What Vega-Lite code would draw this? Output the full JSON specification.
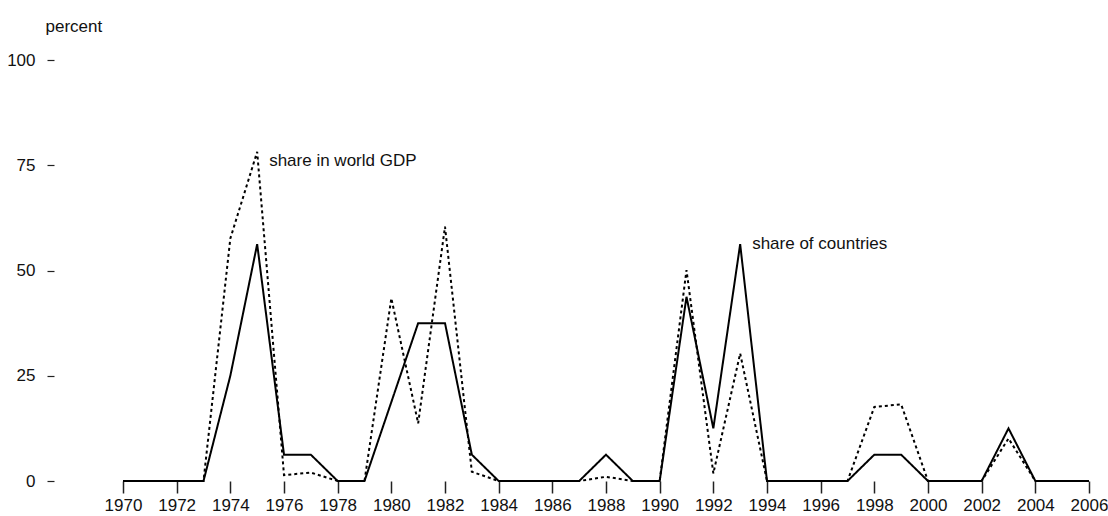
{
  "$schema": "https://vega.github.io/schema/vega-lite/v6.json",
  "width": 966,
  "height": 421,
  "autosize": {"type": "none"},
  "padding": {"left": 123, "top": 60, "right": 19, "bottom": 35},
  "background": "white",
  "config": {
    "view": {"stroke": null},
    "font": "Liberation Sans, Arial, sans-serif"
  },
  "datasets": {
    "series": [
      {"year": 1970, "series": "countries", "value": 0},
      {"year": 1971, "series": "countries", "value": 0},
      {"year": 1972, "series": "countries", "value": 0},
      {"year": 1973, "series": "countries", "value": 0},
      {"year": 1974, "series": "countries", "value": 25},
      {"year": 1975, "series": "countries", "value": 56.25},
      {"year": 1976, "series": "countries", "value": 6.25},
      {"year": 1977, "series": "countries", "value": 6.25},
      {"year": 1978, "series": "countries", "value": 0},
      {"year": 1979, "series": "countries", "value": 0},
      {"year": 1980, "series": "countries", "value": 18.75},
      {"year": 1981, "series": "countries", "value": 37.5},
      {"year": 1982, "series": "countries", "value": 37.5},
      {"year": 1983, "series": "countries", "value": 6.25},
      {"year": 1984, "series": "countries", "value": 0},
      {"year": 1985, "series": "countries", "value": 0},
      {"year": 1986, "series": "countries", "value": 0},
      {"year": 1987, "series": "countries", "value": 0},
      {"year": 1988, "series": "countries", "value": 6.25},
      {"year": 1989, "series": "countries", "value": 0},
      {"year": 1990, "series": "countries", "value": 0},
      {"year": 1991, "series": "countries", "value": 43.75},
      {"year": 1992, "series": "countries", "value": 12.5},
      {"year": 1993, "series": "countries", "value": 56.25},
      {"year": 1994, "series": "countries", "value": 0},
      {"year": 1995, "series": "countries", "value": 0},
      {"year": 1996, "series": "countries", "value": 0},
      {"year": 1997, "series": "countries", "value": 0},
      {"year": 1998, "series": "countries", "value": 6.25},
      {"year": 1999, "series": "countries", "value": 6.25},
      {"year": 2000, "series": "countries", "value": 0},
      {"year": 2001, "series": "countries", "value": 0},
      {"year": 2002, "series": "countries", "value": 0},
      {"year": 2003, "series": "countries", "value": 12.5},
      {"year": 2004, "series": "countries", "value": 0},
      {"year": 2005, "series": "countries", "value": 0},
      {"year": 2006, "series": "countries", "value": 0},
      {"year": 1970, "series": "gdp", "value": 0},
      {"year": 1971, "series": "gdp", "value": 0},
      {"year": 1972, "series": "gdp", "value": 0},
      {"year": 1973, "series": "gdp", "value": 0},
      {"year": 1974, "series": "gdp", "value": 57.6},
      {"year": 1975, "series": "gdp", "value": 78.2},
      {"year": 1976, "series": "gdp", "value": 1.4},
      {"year": 1977, "series": "gdp", "value": 2.0},
      {"year": 1978, "series": "gdp", "value": 0},
      {"year": 1979, "series": "gdp", "value": 0},
      {"year": 1980, "series": "gdp", "value": 43.4},
      {"year": 1981, "series": "gdp", "value": 13.7},
      {"year": 1982, "series": "gdp", "value": 60.4},
      {"year": 1983, "series": "gdp", "value": 2.2},
      {"year": 1984, "series": "gdp", "value": 0},
      {"year": 1985, "series": "gdp", "value": 0},
      {"year": 1986, "series": "gdp", "value": 0},
      {"year": 1987, "series": "gdp", "value": 0},
      {"year": 1988, "series": "gdp", "value": 1.0},
      {"year": 1989, "series": "gdp", "value": 0},
      {"year": 1990, "series": "gdp", "value": 0},
      {"year": 1991, "series": "gdp", "value": 50.1},
      {"year": 1992, "series": "gdp", "value": 1.8},
      {"year": 1993, "series": "gdp", "value": 30.3},
      {"year": 1994, "series": "gdp", "value": 0},
      {"year": 1995, "series": "gdp", "value": 0},
      {"year": 1996, "series": "gdp", "value": 0},
      {"year": 1997, "series": "gdp", "value": 0},
      {"year": 1998, "series": "gdp", "value": 17.6},
      {"year": 1999, "series": "gdp", "value": 18.2},
      {"year": 2000, "series": "gdp", "value": 0},
      {"year": 2001, "series": "gdp", "value": 0},
      {"year": 2002, "series": "gdp", "value": 0},
      {"year": 2003, "series": "gdp", "value": 10.1},
      {"year": 2004, "series": "gdp", "value": 0},
      {"year": 2005, "series": "gdp", "value": 0},
      {"year": 2006, "series": "gdp", "value": 0}
    ],
    "labels": [
      {"year": 1975, "value": 76, "label": "share in world GDP"},
      {"year": 1993, "value": 56.3, "label": "share of countries"}
    ]
  },
  "layer": [
    {
      "data": {"name": "series"},
      "mark": {"type": "line", "strokeWidth": 2, "color": "black", "strokeCap": "butt"},
      "encoding": {
        "x": {
          "field": "year",
          "type": "quantitative",
          "scale": {"domain": [1970, 2006], "nice": false, "zero": false},
          "axis": {
            "title": null,
            "values": [1970,1971,1972,1973,1974,1975,1976,1977,1978,1979,1980,1981,1982,1983,1984,1985,1986,1987,1988,1989,1990,1991,1992,1993,1994,1995,1996,1997,1998,1999,2000,2001,2002,2003,2004,2005,2006],
            "labelExpr": "datum.value % 2 === 0 ? datum.value : ''",
            "format": "d",
            "domain": false,
            "grid": false,
            "tickSize": {"condition": {"test": "datum.value % 2 === 0", "value": 12}, "value": 6},
            "tickWidth": 1.5,
            "tickColor": "#222",
            "labelFontSize": 17,
            "labelColor": "#111",
            "labelPadding": 4,
            "labelFlush": false,
            "labelOverlap": false
          }
        },
        "y": {
          "field": "value",
          "type": "quantitative",
          "scale": {"domain": [0, 100], "nice": false},
          "axis": {
            "title": "percent",
            "titleAngle": 0,
            "titleAlign": "left",
            "titleBaseline": "alphabetic",
            "titleX": -9,
            "titleY": -29,
            "titleFontSize": 17,
            "titleFontWeight": "normal",
            "titleColor": "#111",
            "values": [0, 25, 50, 75, 100],
            "domain": false,
            "grid": false,
            "offset": 69,
            "tickSize": 7,
            "tickWidth": 1.2,
            "tickColor": "#222",
            "labelFontSize": 17,
            "labelColor": "#111",
            "labelPadding": 12
          }
        },
        "detail": {"field": "series"},
        "strokeDash": {
          "field": "series",
          "type": "nominal",
          "scale": {"domain": ["countries", "gdp"], "range": [[1, 0], [3, 3]]},
          "legend": null
        }
      }
    },
    {
      "data": {"name": "labels"},
      "mark": {"type": "text", "align": "left", "baseline": "middle", "dx": 12, "fontSize": 17, "color": "#111"},
      "encoding": {
        "x": {"field": "year", "type": "quantitative"},
        "y": {"field": "value", "type": "quantitative"},
        "text": {"field": "label"}
      }
    }
  ]
}
